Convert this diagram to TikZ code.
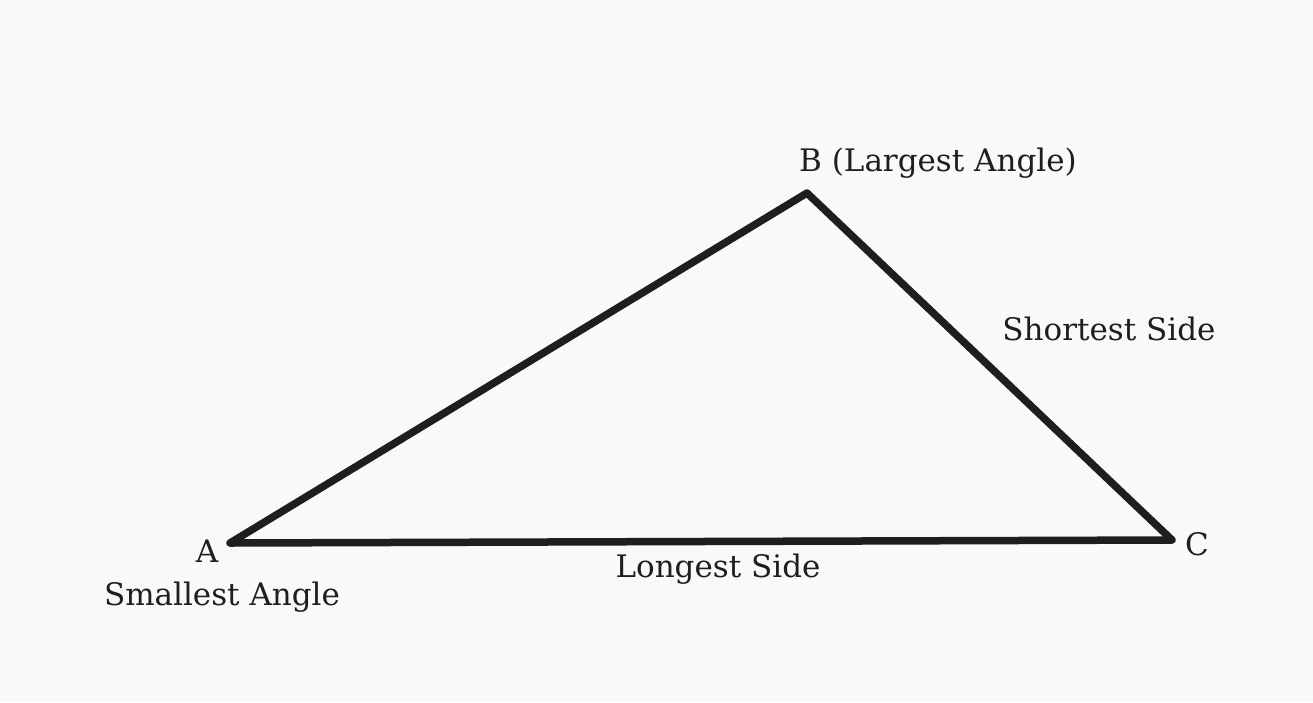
\documentclass[tikz,border=0pt]{standalone}
\usepackage{fontspec}
\setmainfont{DejaVu Serif}
\definecolor{bgc}{HTML}{F8F9FA}
\definecolor{ink}{HTML}{1E1E1E}
\begin{document}
\begin{tikzpicture}[x=1pt,y=-1pt,
  lbl/.style={text=ink,font=\fontsize{31}{36}\selectfont,inner sep=0pt,anchor=center},
  side/.style={draw=ink,line width=7.5pt,line join=round,line cap=round}]
\fill[bgc] (0,0) rectangle (1313,702);
\useasboundingbox (0,0) rectangle (1313,702);
\coordinate (A) at (230,543);
\coordinate (B) at (807,193);
\coordinate (C) at (1172,540);
\draw[side] (A) -- (B) -- (C) -- cycle;
\node[lbl] (lb) at (938,163) {B (Largest Angle)};
\node[lbl] (ls) at (1109,329) {Shortest Side};
\node[lbl] (lc) at (1197,544) {C};
\node[lbl] (la) at (207,551) {A};
\node[lbl] (lsa) at (222,597) {Smallest Angle};
\node[lbl] (ll) at (718,569) {Longest Side};
\end{tikzpicture}
\end{document}
